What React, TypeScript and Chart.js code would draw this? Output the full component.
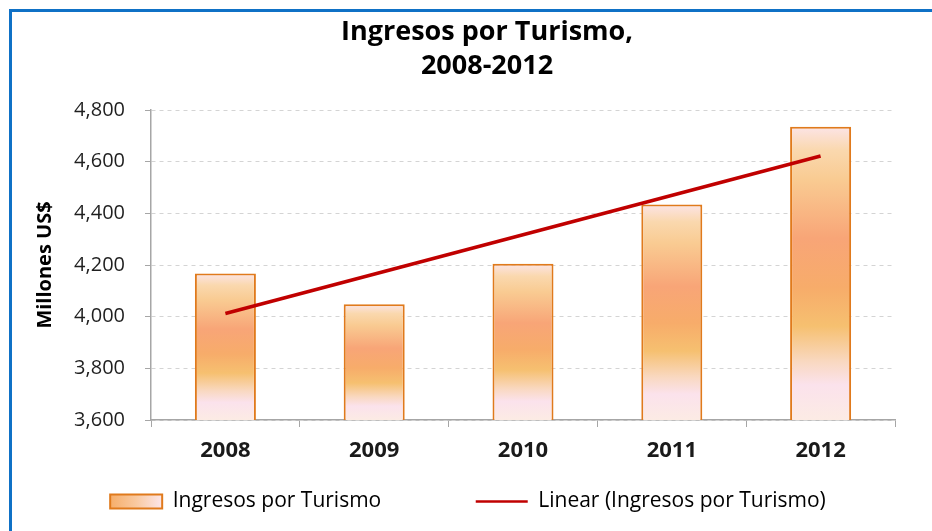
import React, { useEffect, useRef } from 'react';
import { Chart, registerables } from 'chart.js';

Chart.register(...registerables);

const categories = ['2008', '2009', '2010', '2011', '2012'];
const ingresos = [4167, 4048, 4205, 4434, 4735];
// Excel linear trendline, read at its two ends (2008 and 2012)
const trendLine: (number | null)[] = [4012, null, null, null, 4622];
const yMin = 3600;
const yMax = 4800;
const yStep = 200;
const titleLines = ['Ingresos por Turismo,', '2008-2012'];
const yTitle = 'Millones US$';
const barLabel = 'Ingresos por Turismo';
const trendLabel = 'Linear (Ingresos por Turismo)';

const FONT = '"Open Sans", Lato, sans-serif';
const ORANGE_BORDER = '#E07A1C';
const RED = '#C00000';
const LEGEND_SHIFT_X = -19;

const barStops: [number, string][] = [
  [0.0, '#FCE4E6'],
  [0.08, '#FAD8AE'],
  [0.18, '#F9CB92'],
  [0.38, '#F8A577'],
  [0.55, '#F7AC6A'],
  [0.68, '#F6C070'],
  [0.8, '#F9D8C0'],
  [0.88, '#FBE2EC'],
  [1.0, '#FCEBE4'],
];

const barGlow = {
  id: 'barGlow',
  afterDatasetDraw(chart: any, args: any) {
    if (args.index !== 0) return;
    const c = chart.ctx as CanvasRenderingContext2D;
    args.meta.data.forEach((el: any) => {
      const { x, y, base, width } = el.getProps(['x', 'y', 'base', 'width'], true);
      const left = x - width / 2;
      const h = base - y;
      c.save();
      c.beginPath();
      c.rect(left + 2, y + 2, width - 4, h - 4);
      c.clip();
      const cx = x + width * 0.15;
      const cy = base;
      const r = width * 0.75;
      const g = c.createRadialGradient(cx, cy, 0, cx, cy, r);
      g.addColorStop(0, 'rgba(255,238,250,0.95)');
      g.addColorStop(0.45, 'rgba(253,232,242,0.6)');
      g.addColorStop(1, 'rgba(253,232,242,0)');
      c.fillStyle = g;
      c.fillRect(left, base - r, width, r);
      c.restore();
    });
  },
};

const legendTweaks = {
  id: 'legendTweaks',
  afterLayout(chart: any) {
    const lg = chart.legend;
    if (!lg) return;
    lg.left += LEGEND_SHIFT_X;
    lg.right += LEGEND_SHIFT_X;
  },
  beforeDraw(chart: any) {
    const lg = chart.legend;
    if (!lg || !lg.legendItems || !lg.legendHitBoxes || !lg.legendHitBoxes[0]) return;
    const hb = lg.legendHitBoxes[0];
    const boxW = lg.options.labels.pointStyleWidth || 52;
    const g = chart.ctx.createLinearGradient(hb.left, 0, hb.left + boxW, 0);
    g.addColorStop(0, '#F6AE6A');
    g.addColorStop(0.5, '#F9C9A0');
    g.addColorStop(1, '#FCE6EA');
    lg.legendItems[0].fillStyle = g;
  },
};

export default function App() {
  const ref = useRef<HTMLCanvasElement | null>(null);

  useEffect(() => {
    if (!ref.current) return;
    const chart = new Chart(ref.current, {
      type: 'bar',
      data: {
        labels: categories,
        datasets: [
          {
            type: 'bar',
            label: barLabel,
            data: ingresos,
            order: 1,
            borderColor: ORANGE_BORDER,
            borderWidth: 2,
            borderSkipped: false,
            categoryPercentage: 1,
            barPercentage: 0.41,
            backgroundColor: (ctx: any) => {
              const chart = ctx.chart;
              const sc = chart.scales && chart.scales.y;
              if (!sc || ctx.type !== 'data') return '#F8B27C';
              const top = sc.getPixelForValue(ctx.raw);
              const bot = sc.getPixelForValue(yMin);
              if (!isFinite(top) || !isFinite(bot) || top === bot) return '#F8B27C';
              const g = chart.ctx.createLinearGradient(0, top, 0, bot);
              barStops.forEach(([o, c]) => g.addColorStop(o, c));
              return g;
            },
          } as any,
          {
            type: 'line',
            label: trendLabel,
            data: trendLine,
            order: 0,
            spanGaps: true,
            borderColor: RED,
            borderWidth: 3.5,
            pointRadius: 0,
            pointHoverRadius: 0,
            fill: false,
            tension: 0,
          } as any,
        ],
      },
      options: {
        animation: false,
        responsive: false,
        maintainAspectRatio: false,
        layout: { padding: { left: 21, right: 0, top: 0, bottom: 9 } },
        plugins: {
          tooltip: { enabled: false },
          title: {
            display: true,
            text: titleLines,
            color: '#000000',
            font: { family: FONT, size: 27, weight: 'bold', lineHeight: 34 / 27 },
            padding: { top: 3, bottom: 27 },
          },
          legend: {
            display: true,
            position: 'bottom',
            onClick: () => {},
            labels: {
              usePointStyle: true,
              pointStyleWidth: 52,
              boxHeight: 14,
              padding: 16,
              color: '#1A1A1A',
              font: { family: FONT, size: 21 },
              generateLabels: () => [
                {
                  text: barLabel,
                  fillStyle: '#F8C090',
                  strokeStyle: ORANGE_BORDER,
                  lineWidth: 2,
                  pointStyle: 'rect',
                  hidden: false,
                  datasetIndex: 0,
                } as any,
                {
                  text: '',
                  fillStyle: 'rgba(0,0,0,0)',
                  strokeStyle: 'rgba(0,0,0,0)',
                  lineWidth: 0,
                  pointStyle: 'rect',
                  hidden: false,
                } as any,
                {
                  text: trendLabel,
                  fillStyle: RED,
                  strokeStyle: RED,
                  lineWidth: 2.5,
                  pointStyle: 'line',
                  hidden: false,
                  datasetIndex: 1,
                } as any,
              ],
            },
          },
        },
        scales: {
          x: {
            type: 'category',
            grid: {
              display: true,
              drawOnChartArea: false,
              drawTicks: true,
              tickLength: 7,
              offset: true,
              color: '#A6A6A6',
              tickColor: '#A6A6A6',
            },
            border: { display: true, color: '#A6A6A6', width: 1.5 },
            ticks: {
              color: '#1A1A1A',
              padding: 2,
              font: { family: FONT, size: 22, weight: 'bold', lineHeight: 44 / 22 },
            },
          },
          y: {
            type: 'linear',
            position: 'left',
            min: yMin,
            max: yMax,
            grid: {
              display: true,
              color: '#D4D4D4',
              lineWidth: 1,
              drawTicks: true,
              tickLength: 6,
              tickColor: '#A6A6A6',
              tickBorderDash: [],
            },
            border: { display: true, color: '#A6A6A6', width: 1.5, dash: [4, 4] },
            ticks: {
              stepSize: yStep,
              padding: 20,
              color: '#1F1F1F',
              font: { family: FONT, size: 20 },
              callback: (v: any) => Number(v).toLocaleString('en-US'),
            },
            title: {
              display: true,
              text: yTitle,
              color: '#000000',
              font: { family: FONT, size: 20, weight: 'bold' },
              padding: { top: 0, bottom: 0 },
            },
            afterFit: (s: any) => {
              s.width = 118;
            },
          } as any,
          y2: {
            type: 'linear',
            position: 'right',
            display: true,
            grid: { display: false },
            border: { display: false },
            ticks: { display: false },
            afterFit: (s: any) => {
              s.width = 46;
            },
          } as any,
        },
      },
      plugins: [barGlow, legendTweaks],
    });
    return () => chart.destroy();
  }, []);

  return (
    <div
      style={{
        position: 'fixed',
        left: 9,
        top: 9,
        width: 920,
        height: 519,
        borderTop: '3px solid #0F71C6',
        borderLeft: '3px solid #0F71C6',
        overflow: 'hidden',
        background: '#FFFFFF',
      }}
    >
      <canvas
        ref={ref}
        width={929}
        height={519}
        style={{ display: 'block', width: 929, height: 519 }}
      />
    </div>
  );
}
